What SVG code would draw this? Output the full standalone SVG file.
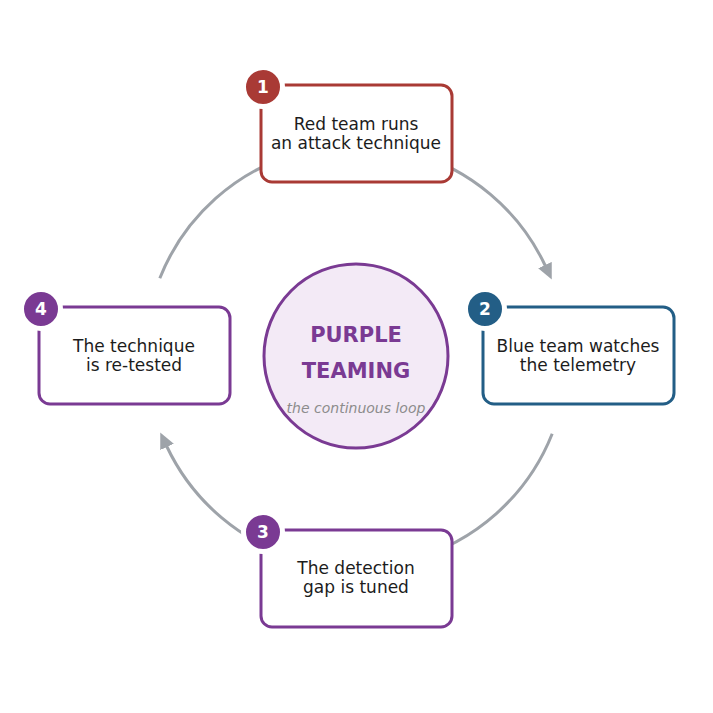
<svg xmlns="http://www.w3.org/2000/svg" width="713" height="713" viewBox="0 0 713 713">
<defs>
<marker id="ah" markerWidth="16" markerHeight="16" viewBox="0 0 16 16" refX="1" refY="8" orient="auto" markerUnits="userSpaceOnUse">
<path d="M0,0.5 L16,8 L0,15.5 Z" fill="#9ea3a9"/>
</marker>
<style>
.arc{fill:none;stroke:#9ea3a9;stroke-width:3}
.box{fill:#fff;stroke-width:3}
.lbl{font-family:"DejaVu Sans",sans-serif;font-size:17px;fill:#1c1c1c;text-anchor:middle}
.num{font-family:"DejaVu Sans",sans-serif;font-size:17px;font-weight:bold;fill:#fff;text-anchor:middle}
.badge{stroke:#fff;stroke-width:5}
.red{stroke:#a93a35}
.blue{stroke:#235e86}
.purple{stroke:#7a3a93}
</style>
</defs>
<rect width="713" height="713" fill="#fff"/>
<g id="connectors">
<path class="arc" d="M410.6,152.2 A211,211 0 0 1 545.4,266" marker-end="url(#ah)"/>
<path class="arc" d="M552.2,433.7 A211,211 0 0 1 410.6,559.8"/>
<path class="arc" d="M301.4,559.8 A211,211 0 0 1 166.6,446" marker-end="url(#ah)"/>
<path class="arc" d="M159.8,278.3 A211,211 0 0 1 301.4,152.2"/>
</g>
<g id="center">
<circle cx="356" cy="356" r="92" fill="#f3eaf6" stroke="#7a3a93" stroke-width="3"/>
<text x="356" y="342" font-family="DejaVu Sans,sans-serif" font-size="21" font-weight="bold" fill="#7a3a93" text-anchor="middle">PURPLE</text>
<text x="356" y="378" font-family="DejaVu Sans,sans-serif" font-size="21" font-weight="bold" fill="#7a3a93" text-anchor="middle">TEAMING</text>
<text x="356" y="413" font-family="DejaVu Sans,sans-serif" font-size="14" font-style="italic" fill="#8c8c8c" text-anchor="middle">the continuous loop</text>
</g>
<g id="node1">
<rect class="box red" x="261" y="85" width="191" height="97" rx="11"/>
<text class="lbl" x="356" y="129.5">Red team runs</text>
<text class="lbl" x="356" y="148.5">an attack technique</text>
<circle class="badge" cx="263" cy="87" r="19.5" fill="#a93a35"/>
<text class="num" x="263" y="93">1</text>
</g>
<g id="node2">
<rect class="box blue" x="483" y="307" width="191" height="97" rx="11"/>
<text class="lbl" x="578" y="351.5">Blue team watches</text>
<text class="lbl" x="578" y="370.5">the telemetry</text>
<circle class="badge" cx="485" cy="309" r="19.5" fill="#235e86"/>
<text class="num" x="485" y="315">2</text>
</g>
<g id="node3">
<rect class="box purple" x="261" y="530" width="191" height="97" rx="11"/>
<text class="lbl" x="356" y="573.5">The detection</text>
<text class="lbl" x="356" y="592.5">gap is tuned</text>
<circle class="badge" cx="263" cy="532" r="19.5" fill="#7a3a93"/>
<text class="num" x="263" y="538">3</text>
</g>
<g id="node4">
<rect class="box purple" x="39" y="307" width="191" height="97" rx="11"/>
<text class="lbl" x="134" y="351.5">The technique</text>
<text class="lbl" x="134" y="370.5">is re-tested</text>
<circle class="badge" cx="41" cy="309" r="19.5" fill="#7a3a93"/>
<text class="num" x="41" y="315">4</text>
</g>
</svg>
